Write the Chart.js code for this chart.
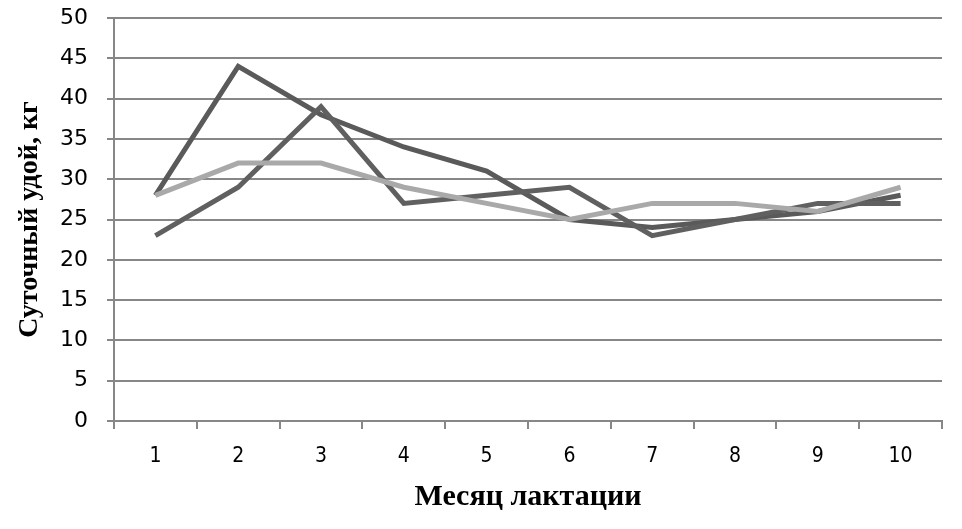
<!DOCTYPE html>
<html>
<head>
<meta charset="utf-8">
<script src="https://cdn.jsdelivr.net/npm/chart.js@4/dist/chart.umd.min.js"></script>
<style>
  html, body { margin: 0; padding: 0; background: #fff; }
  #wrap { width: 962px; height: 529px; }
</style>
</head>
<body>
<div id="wrap"><canvas id="milkChart" width="962" height="529"></canvas></div>
<script>
// months of lactation
const months = ['1', '2', '3', '4', '5', '6', '7', '8', '9', '10'];
// daily milk yield, kg
const seriesA = [28, 44, 38, 34, 31, 25, 24, 25, 26, 28];
const seriesB = [23, 29, 39, 27, 28, 29, 23, 25, 27, 27];
const seriesC = [28, 32, 32, 29, 27, 25, 27, 27, 26, 29];
const yTicks = [0, 5, 10, 15, 20, 25, 30, 35, 40, 45, 50];

const gridColor = '#878787';

const ctx = document.getElementById('milkChart').getContext('2d');
new Chart(ctx, {
  type: 'line',
  data: {
    labels: months,
    datasets: [
      { label: 'C', data: seriesC, borderColor: '#a9a9a9', borderWidth: 5, pointRadius: 0, tension: 0 },
      { label: 'B', data: seriesB, borderColor: '#606060', borderWidth: 5, pointRadius: 0, tension: 0 },
      { label: 'A', data: seriesA, borderColor: '#5a5a5a', borderWidth: 5, pointRadius: 0, tension: 0 }
    ]
  },
  options: {
    responsive: false,
    animation: false,
    layout: { padding: { top: 18, right: 20, left: 0, bottom: 0 } },
    scales: {
      x: {
        offset: true,
        grid: {
          offset: true,
          drawOnChartArea: false,
          drawTicks: true,
          tickLength: 8,
          color: gridColor,
          lineWidth: 2
        },
        border: { color: gridColor, width: 2 },
        ticks: {
          color: '#000',
          padding: 15,
          font: { family: '"DejaVu Sans Condensed", "Liberation Sans Narrow", sans-serif', size: 21 }
        },
        title: {
          display: true,
          text: 'Месяц лактации',
          color: '#000',
          padding: { top: 0, bottom: 17 },
          font: { family: '"Liberation Serif", serif', size: 30, weight: 'bold', lineHeight: 1 }
        },
        afterFit: (axis) => { axis.height = 108; axis.paddingLeft = 0; axis.paddingRight = 0; }
      },
      y: {
        min: 0,
        max: 50,
        afterBuildTicks: (axis) => { axis.ticks = yTicks.map(v => ({ value: v })); },
        grid: {
          color: gridColor,
          lineWidth: 2,
          tickLength: 7
        },
        border: { color: gridColor, width: 2 },
        ticks: {
          color: '#000',
          padding: 19,
          font: { family: '"DejaVu Sans", sans-serif', size: 22 }
        },
        title: {
          display: true,
          text: 'Суточный удой, кг',
          color: '#000',
          padding: { top: 16, bottom: 0 },
          font: { family: '"Liberation Serif", serif', size: 28, weight: 'bold', lineHeight: 1 }
        },
        afterFit: (axis) => { axis.width = 114; axis.paddingTop = 0; axis.paddingBottom = 0; }
      }
    },
    plugins: {
      legend: { display: false },
      tooltip: { enabled: false }
    }
  }
});
</script>
</body>
</html>
